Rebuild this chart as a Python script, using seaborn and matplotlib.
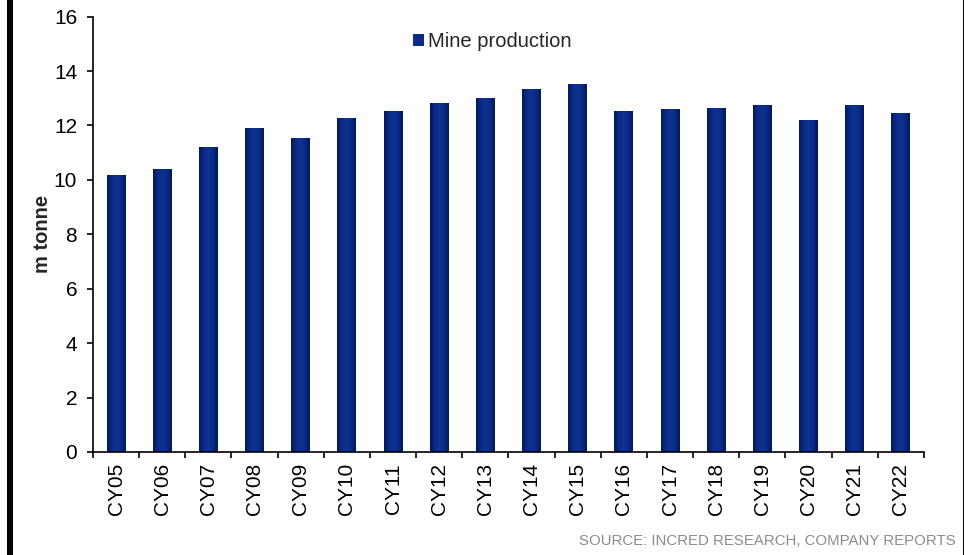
import matplotlib
matplotlib.use("Agg")
import matplotlib.pyplot as plt
from matplotlib.colors import LinearSegmentedColormap
from matplotlib.patches import Patch, Rectangle
import numpy as np
import pandas as pd
import seaborn as sns

years = ["CY05", "CY06", "CY07", "CY08", "CY09", "CY10", "CY11", "CY12", "CY13",
         "CY14", "CY15", "CY16", "CY17", "CY18", "CY19", "CY20", "CY21", "CY22"]
production = [10.15, 10.40, 11.18, 11.88, 11.51, 12.24, 12.50, 12.81, 13.01,
              13.31, 13.49, 12.50, 12.57, 12.61, 12.72, 12.17, 12.72, 12.43]
y_ticks = [0, 2, 4, 6, 8, 10, 12, 14, 16]

series_name = "Mine production"
source_note = "SOURCE: INCRED RESEARCH, COMPANY REPORTS"

df = pd.DataFrame({"year": years, "production": production})

sns.set_theme(style="white")
plt.rcParams["font.family"] = ["Liberation Sans", "DejaVu Sans"]

fig = plt.figure(figsize=(9.68, 5.55), dpi=100)
ax = fig.add_axes([0.096, 0.1856, 0.8585, 0.7844])

bar_color = "#0b2b88"
sns.barplot(data=df, x="year", y="production", color=bar_color,
            width=0.41, saturation=1, ax=ax, zorder=2)

# cylinder-like shading across each bar
shade = LinearSegmentedColormap.from_list(
    "bar_shade", ["#001a5a", "#0a2a86", "#0e3292", "#0a2a86", "#001a5a"])
grad = np.linspace(0, 1, 64).reshape(1, -1)
for p in ax.patches:
    x0, y0 = p.get_x(), p.get_y()
    w, h = p.get_width(), p.get_height()
    ax.imshow(grad, cmap=shade, extent=[x0, x0 + w, y0, y0 + h],
              aspect="auto", zorder=2.5, interpolation="bilinear")

n = len(years)
ax.set_xlim(-0.5, n - 0.5)
ax.set_ylim(0, 16)
ax.set_yticks(y_ticks)
ax.set_yticklabels([str(t) for t in y_ticks], fontsize=15, color="black")
ax.set_xticks(range(n))
ax.set_xticklabels(years, rotation=90, fontsize=15, color="black")
ax.set_xticks(np.arange(-0.5, n, 1.0), minor=True)
ax.tick_params(axis="x", which="major", length=0, pad=8)
ax.tick_params(axis="x", which="minor", length=4.3, width=1.2, color="black",
               direction="out", bottom=True)
ax.tick_params(axis="y", which="major", length=4.3, width=1.2, color="black",
               direction="out", left=True, pad=7)

ax.set_xlabel("")
ax.set_ylabel("m tonne", fontsize=14.5, fontweight="bold", labelpad=1)
for side in ["top", "right"]:
    ax.spines[side].set_visible(False)
for side in ["left", "bottom"]:
    ax.spines[side].set_color("black")
    ax.spines[side].set_linewidth(1.2)
ax.grid(False)

handle = Patch(facecolor=bar_color, edgecolor="none")
ax.legend(handles=[handle], labels=[series_name], loc="center left",
          bbox_to_anchor=(0.427, 0.925), bbox_transform=fig.transFigure,
          frameon=False, fontsize=14.5, handlelength=0.55, handleheight=0.55,
          handletextpad=0.2, borderpad=0, borderaxespad=0)

fig.text(0.987, 0.025, source_note, ha="right", va="center",
         fontsize=10.8, color="#8c8c8c")

# page frame: thick rule on the left, thin rule on the right
fig.patches.append(Rectangle((0.0072, 0.0), 0.0062, 1.0, transform=fig.transFigure,
                             facecolor="black", edgecolor="none"))
fig.patches.append(Rectangle((0.9945, 0.0), 0.0018, 1.0, transform=fig.transFigure,
                             facecolor="black", edgecolor="none"))

fig.savefig("out.png", dpi=100)
